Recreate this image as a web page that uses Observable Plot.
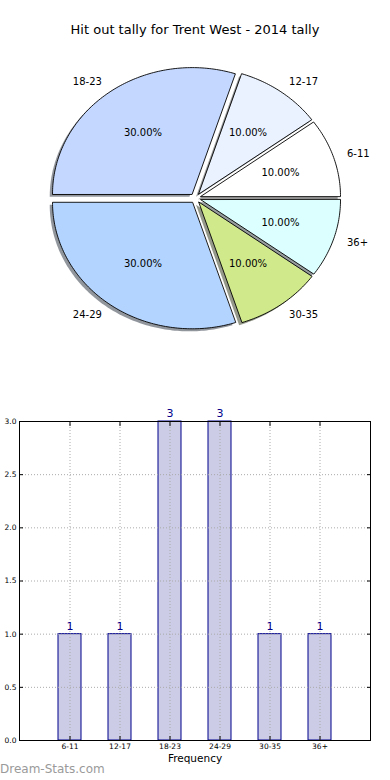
<!DOCTYPE html>
<html><head><meta charset="utf-8">
<script src="https://cdn.jsdelivr.net/npm/d3@7"></script>
<script src="https://cdn.jsdelivr.net/npm/@observablehq/plot@0.6"></script>
<style>
body{margin:0;background:#fff;font-family:"DejaVu Sans",sans-serif;}
#root{position:relative;width:390px;height:780px;overflow:hidden;background:#fff;}
#pie{position:absolute;left:0;top:0;}
#bar{position:absolute;left:0;top:400px;}
#title{position:absolute;top:22px;left:0;width:390px;text-align:center;font-size:13px;line-height:16px;color:#000;z-index:2;}
#wm{position:absolute;left:0;top:762px;font-size:12px;line-height:14px;color:#9a9a9a;z-index:2;}
</style></head><body>
<div id="root"><div id="pie"></div><div id="bar"></div><div id="title"></div><div id="wm"></div></div>
<script>
const categories = ["6-11", "12-17", "18-23", "24-29", "30-35", "36+"];
const counts = [1, 1, 3, 3, 1, 1];
const sliceColors = ["#ffffff", "#eaf2ff", "#c4d8ff", "#b3d4ff", "#d0e98a", "#dcffff"];
const yTicks = [0, 0.5, 1, 1.5, 2, 2.5, 3];
const titleText = "Hit out tally for Trent West - 2014 tally";
const xLabel = "Frequency";
const watermark = "Dream-Stats.com";

document.getElementById("title").textContent = titleText;
document.getElementById("wm").textContent = watermark;

// ---- pie geometry (unit-radius, y up), built from the counts ----
const explode = 0.04;
const total = d3.sum(counts);
const slicePts = [], shadowPts = [], labelPts = [], pctPts = [];
let start = 0;
counts.forEach((v, i) => {
  const a0 = start, a1 = start + v / total * 2 * Math.PI;
  start = a1;
  const mid = (a0 + a1) / 2;
  const ox = explode * Math.cos(mid), oy = explode * Math.sin(mid);
  const n = Math.max(2, Math.ceil((a1 - a0) / (Math.PI / 180)));
  const pts = [[ox, oy]];
  for (let k = 0; k <= n; k++) {
    const t = a0 + (a1 - a0) * k / n;
    pts.push([ox + Math.cos(t), oy + Math.sin(t)]);
  }
  const c = d3.rgb(sliceColors[i]);
  const sh = d3.rgb(c.r * 0.3, c.g * 0.3, c.b * 0.3).formatHex();
  pts.forEach(([x, y]) => {
    slicePts.push({cat: categories[i], x, y, color: sliceColors[i]});
    shadowPts.push({cat: categories[i], x: x - 0.02, y: y - 0.02, color: sh});
  });
  labelPts.push({cat: categories[i], x: ox + 1.1 * Math.cos(mid), y: oy + 1.1 * Math.sin(mid)});
  pctPts.push({text: d3.format(".2f")(v / total * 100) + "%", x: ox + 0.6 * Math.cos(mid), y: oy + 0.6 * Math.sin(mid)});
});

const W = 390, H = 380, cx = 195, cy = 197.7, rx = 139.7, ry = 126.5;
const pie = Plot.plot({
  width: W, height: H, margin: 0,
  style: {fontFamily: "DejaVu Sans", background: "transparent", overflow: "visible"},
  x: {domain: [-cx / rx, (W - cx) / rx], axis: null},
  y: {domain: [-(H - cy) / ry, cy / ry], axis: null},
  color: {type: "identity"},
  marks: [
    Plot.line(shadowPts, {x: "x", y: "y", z: "cat", curve: "linear-closed", fill: "color", fillOpacity: 0.55, stroke: "none"}),
    Plot.line(slicePts, {x: "x", y: "y", z: "cat", curve: "linear-closed", fill: "color", stroke: "#000", strokeWidth: 0.9}),
    Plot.text(labelPts.filter(d => d.x > 0), {x: "x", y: "y", text: "cat", textAnchor: "start", fontSize: 10, fill: "#000"}),
    Plot.text(labelPts.filter(d => d.x <= 0), {x: "x", y: "y", text: "cat", textAnchor: "end", fontSize: 10, fill: "#000"}),
    Plot.text(pctPts, {x: "x", y: "y", text: "text", textAnchor: "middle", fontSize: 10, fill: "#000"})
  ]
});
document.getElementById("pie").appendChild(pie);

// ---- bar chart ----
const barData = categories.map((c, i) => ({cat: c, count: counts[i]}));
const bar = Plot.plot({
  width: 390, height: 380, marginTop: 21, marginBottom: 40, marginLeft: 19, marginRight: 20,
  style: {fontFamily: "DejaVu Sans", background: "transparent", overflow: "visible"},
  x: {type: "band", domain: categories, paddingInner: 0.54, paddingOuter: 0.77},
  y: {domain: [0, 3]},
  marks: [
    Plot.barY(barData, {x: "cat", y: "count", fill: "#ccccE6", stroke: "#00008b", strokeWidth: 1}),
    Plot.gridX({stroke: "#aaa", strokeOpacity: 1, strokeDasharray: "1,2"}),
    Plot.gridY(yTicks, {stroke: "#aaa", strokeOpacity: 1, strokeDasharray: "1,2"}),
    Plot.axisX({anchor: "bottom", tickSize: 0, tickPadding: 3, fontSize: 7.5, label: null, fill: "#000"}),
    Plot.axisX({anchor: "bottom", tickSize: -4, tickFormat: () => "", label: null, stroke: "#000"}),
    Plot.axisX({anchor: "top", tickSize: -4, tickFormat: () => "", label: null, stroke: "#000"}),
    Plot.axisY(yTicks, {anchor: "left", tickSize: 0, tickPadding: 3, tickFormat: d3.format(".1f"), fontSize: 7.5, label: null, fill: "#000"}),
    Plot.axisY(yTicks, {anchor: "left", tickSize: -4, tickFormat: () => "", label: null, stroke: "#000"}),
    Plot.axisY(yTicks, {anchor: "right", tickSize: -4, tickFormat: () => "", label: null, stroke: "#000"}),
    Plot.text(barData, {x: "cat", y: "count", text: d => String(d.count), dy: -8, fill: "#00008b", fontSize: 11}),
    Plot.text([xLabel], {frameAnchor: "bottom", dy: 21, text: d => d, fontSize: 10.5, fill: "#000"}),
    Plot.frame({stroke: "#000"})
  ]
});
document.getElementById("bar").appendChild(bar);
</script>
</body></html>
